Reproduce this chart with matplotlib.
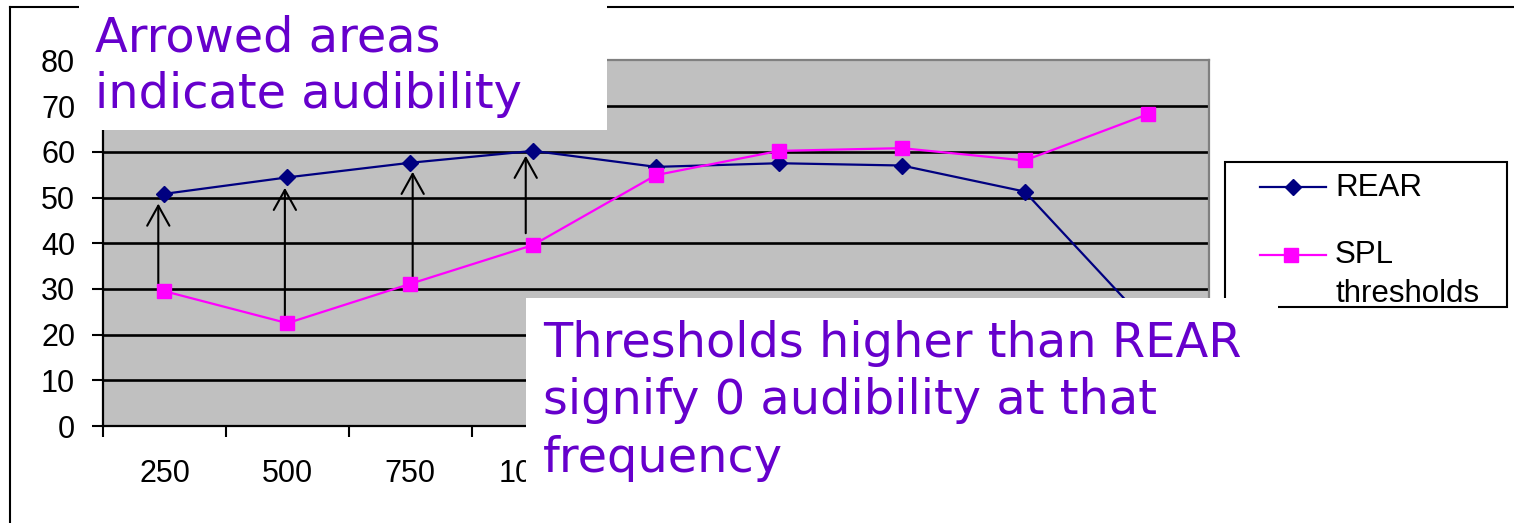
import matplotlib
matplotlib.use("Agg")
import matplotlib.pyplot as plt
from matplotlib.patches import Rectangle
from matplotlib.lines import Line2D
from matplotlib.transforms import Bbox
import numpy as np

# Audibility chart data (dB SPL)
frequencies = ["250", "500", "750", "1000", "1500", "2000", "3000", "4000", "6000"]
rear = [50.8, 54.4, 57.6, 60.2, 56.7, 57.5, 57.0, 51.3, 22.4]
spl_thresholds = [29.5, 22.5, 31.1, 39.6, 54.9, 60.2, 60.8, 58.1, 68.2]
y_ticks = [0, 10, 20, 30, 40, 50, 60, 70, 80]
arrowed = [0, 1, 2, 3]          # frequencies where REAR lies above threshold
series_names = ["REAR", "SPL", "thresholds"]
note_top = ["Arrowed areas", "indicate audibility"]
note_bottom = ["Thresholds higher than REAR", "signify 0 audibility at that", "frequency"]

NAVY = "#000080"
MAGENTA = "#FF00FF"
PURPLE = "#6600CC"
PLOT_GRAY = "#C0C0C0"
ARIAL = "Liberation Sans"
NOTE_FONT = "DejaVu Sans"

W, H = 1514, 523
fig = plt.figure(figsize=(W / 100, H / 100), dpi=100)
fig.patch.set_facecolor("white")


def fx(px):
    return px / W


def fy(py):
    return 1 - py / H


ax = fig.add_axes([fx(103), fy(426), fx(1209) - fx(103), fy(60.4) - fy(426)])
ax.set_facecolor(PLOT_GRAY)
x = np.arange(len(frequencies))
ax.set_xlim(-0.5, len(frequencies) - 0.5)
ax.set_ylim(y_ticks[0], y_ticks[-1])

# horizontal gridlines
ax.set_yticks(y_ticks)
ax.yaxis.grid(True, color="black", lw=1.9)
ax.set_axisbelow(True)
glines = ax.get_ygridlines()
glines[0].set_visible(False)
glines[-1].set_visible(False)

for side in ("top", "right"):
    ax.spines[side].set_color("#808080")
    ax.spines[side].set_linewidth(1.6)
for side in ("left", "bottom"):
    ax.spines[side].set_color("black")
    ax.spines[side].set_linewidth(1.6)

ax.tick_params(axis="y", direction="out", length=8, width=1.5, pad=12,
               labelsize=22, labelfontfamily=ARIAL)
# category boundaries get tick marks, category centres get labels
ax.set_xticks(np.arange(-0.5, len(frequencies)), labels=[""] * (len(frequencies) + 1))
ax.set_xticks(x, labels=frequencies, minor=True)
ax.tick_params(axis="x", which="major", direction="out", length=8, width=1.5)
ax.tick_params(axis="x", which="minor", length=0, pad=24, labelsize=22,
               labelfontfamily=ARIAL)

ax.plot(x, rear, color=NAVY, lw=1.6, marker="D", ms=8.5, zorder=4)
ax.plot(x, spl_thresholds, color=MAGENTA, lw=1.6, marker="s", ms=10, zorder=4)

# hand-placed arrows spanning the audible range
arrow_shift = [-0.05, -0.02, 0.02, -0.06]
gap_bottom = [0, 0, 0, 8.5]
gap_top = [7, 7.5, 6.5, 3.5]
for k, i in enumerate(arrowed):
    xi = x[i] + arrow_shift[k]
    ax.annotate("", xy=(xi, rear[i]), xytext=(xi, spl_thresholds[i]),
                arrowprops=dict(arrowstyle="->,head_length=0.72,head_width=0.4",
                                mutation_scale=20, color="black", lw=1.5,
                                shrinkA=gap_bottom[k], shrinkB=gap_top[k]),
                zorder=3)

# outer chart-area frame
fig.add_artist(Line2D([fx(10), fx(10)], [fy(7), fy(530)], color="black", lw=1.5, zorder=1))
fig.add_artist(Line2D([fx(10), 1.0], [fy(7), fy(7)], color="black", lw=1.5, zorder=1))

# legend
fig.add_artist(Rectangle((fx(1225), fy(307)), fx(1507) - fx(1225), fy(162) - fy(307),
                         transform=fig.transFigure, facecolor="white",
                         edgecolor="black", lw=1.5, zorder=5))
fig.add_artist(Line2D([fx(1260), fx(1293), fx(1326)], [fy(187)] * 3, color=NAVY, lw=1.6,
                      marker="D", ms=8.5, markevery=[1], zorder=6))
fig.add_artist(Line2D([fx(1260), fx(1291), fx(1326)], [fy(255)] * 3, color=MAGENTA, lw=1.6,
                      marker="s", ms=10, markevery=[1], zorder=6))
fig.text(fx(1335), fy(196), series_names[0], fontsize=22.5, family=ARIAL,
         va="baseline", ha="left", zorder=6)
fig.text(fx(1335), fy(263), series_names[1], fontsize=22.5, family=ARIAL,
         va="baseline", ha="left", zorder=6)
fig.text(fx(1335), fy(302), series_names[2], fontsize=22.5, family=ARIAL,
         va="baseline", ha="left", zorder=6)

# note boxes
fig.add_artist(Rectangle((fx(79), fy(130)), fx(607) - fx(79), fy(-5) - fy(130),
                         transform=fig.transFigure, facecolor="white",
                         edgecolor="none", zorder=10))
for j, line in enumerate(note_top):
    fig.text(fx(95), fy(52 + 56 * j), line, fontsize=34.5, family=NOTE_FONT,
             color=PURPLE, va="baseline", ha="left", zorder=11)

box_left = 526
fig.add_artist(Rectangle((fx(box_left), fy(530)), fx(1278) - fx(box_left), fy(298) - fy(530),
                         transform=fig.transFigure, facecolor="white",
                         edgecolor="none", zorder=10))
for j, line in enumerate(note_bottom):
    fig.text(fx(543), fy(357 + 57.5 * j), line, fontsize=34.5, family=NOTE_FONT,
             color=PURPLE, va="baseline", ha="left", zorder=11)

# frequency labels sitting under the lower note box are masked by it
label_clip = Bbox.from_extents(0, 0, box_left, H)
for xi, lab in zip(x, ax.get_xticklabels(minor=True)):
    centre_px = ax.transData.transform((xi, 0))[0]
    if centre_px - 35 >= box_left:
        lab.set_visible(False)
    else:
        lab.set_clip_box(label_clip)
        lab.set_clip_on(True)

fig.savefig("out.png", dpi=100, facecolor="white")
